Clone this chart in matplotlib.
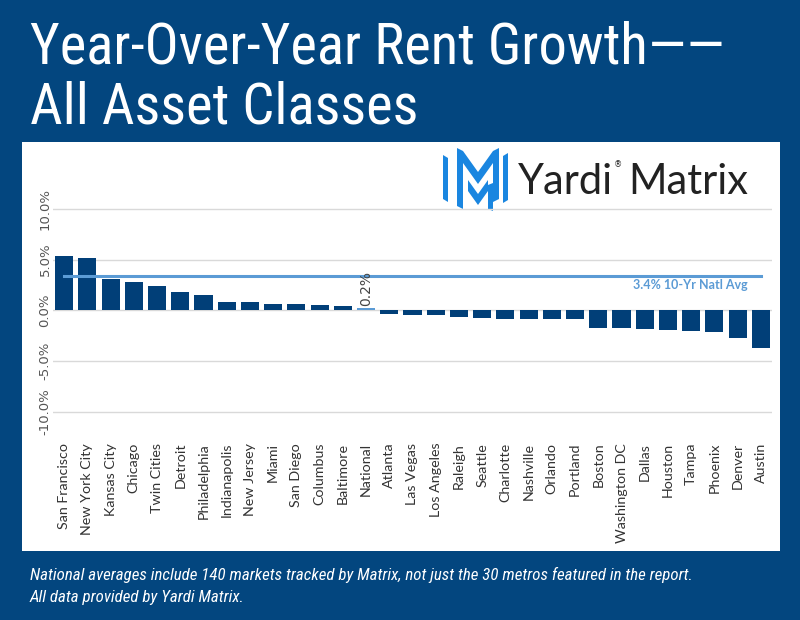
import matplotlib
matplotlib.use("Agg")
import matplotlib.pyplot as plt
from matplotlib import font_manager
from matplotlib.patches import Rectangle, Polygon
import numpy as np

# Data
metros = ['San Francisco', 'New York City', 'Kansas City', 'Chicago', 'Twin Cities',
          'Detroit', 'Philadelphia', 'Indianapolis', 'New Jersey', 'Miami',
          'San Diego', 'Columbus', 'Baltimore', 'National', 'Atlanta', 'Las Vegas',
          'Los Angeles', 'Raleigh', 'Seattle', 'Charlotte', 'Nashville', 'Orlando',
          'Portland', 'Boston', 'Washington DC', 'Dallas', 'Houston', 'Tampa',
          'Phoenix', 'Denver', 'Austin']
rent_growth = [5.4, 5.2, 3.1, 2.8, 2.4, 1.8, 1.5, 0.8, 0.8, 0.6,
               0.6, 0.5, 0.4, 0.2, -0.4, -0.5, -0.5, -0.7, -0.8, -0.9,
               -0.9, -0.9, -0.9, -1.7, -1.7, -1.8, -1.9, -2.0, -2.1, -2.7, -3.7]
natl_avg = 3.4
y_ticks = [-10, -5, 0, 5, 10]

NAVY = '#03467f'
BAR = '#013f78'
LIGHT = '#5b9bd5'

# pick a narrow face for the title if one is around
names = {f.name for f in font_manager.fontManager.ttflist}
if 'Roboto Condensed' in names:
    head = dict(family='Roboto Condensed')
elif 'Liberation Sans Narrow' in names:
    head = dict(family='Liberation Sans Narrow')
else:
    head = dict(family='Roboto')

fig = plt.figure(figsize=(8, 6.2), dpi=100)
fig.patch.set_facecolor(NAVY)
renderer = fig.canvas.get_renderer()


def fit_text(t, width_px):
    # shrink a text until it is as wide as the reference
    for _ in range(3):
        w = t.get_window_extent(renderer).width
        t.set_fontsize(t.get_fontsize() * width_px / w)


# background layer in pixel coordinates
bg = fig.add_axes([0, 0, 1, 1], zorder=0)
bg.set_xlim(0, 800)
bg.set_ylim(620, 0)
bg.axis('off')
bg.add_patch(Rectangle((22, 142), 758, 409, facecolor='white', edgecolor='none'))

# logo mark (rough)
icon = [
    [(443, 155), (448, 158), (448, 202), (443, 199)],
    [(457, 148), (463, 151), (463, 209), (457, 206)],
    [(463, 151), (478, 172), (493, 151), (493, 163), (478, 184), (463, 163)],
    [(468, 180), (478, 194), (488, 180), (488, 191), (478, 205), (468, 191)],
    [(493, 151), (499, 148), (499, 199), (493, 202)],
    [(488, 185), (493, 183), (493, 211), (488, 209)],
    [(503, 156), (508, 153), (508, 200), (503, 203)],
]
for pts in icon:
    bg.add_patch(Polygon(pts, closed=True, facecolor='#1a86e0', edgecolor='none'))
bg.text(518, 182, 'Yardi', fontsize=30, color='#222222', family='Lato',
        va='center', ha='left')
bg.text(614, 165, '®', fontsize=6, color='#222222', va='center', ha='left')
bg.text(628, 182, 'Matrix', fontsize=30, color='#222222', family='Lato',
        va='center', ha='left')

# title and footnote
t1 = fig.text(30 / 800, 1 - 64 / 620, 'Year-Over-Year Rent Growth\u2014\u2014',
              color='white', fontsize=40, va='baseline', ha='left', **head)
fit_text(t1, 695)
fig.text(30 / 800, 1 - 123 / 620, 'All Asset Classes', color='white',
         fontsize=t1.get_fontsize(), va='baseline', ha='left', **head)
f1 = fig.text(30 / 800, 1 - 580 / 620,
              'National averages include 140 markets tracked by Matrix, '
              'not just the 30 metros featured in the report.',
              color='white', fontsize=11, style='italic', va='baseline', **head)
fit_text(f1, 660)
fig.text(30 / 800, 1 - 602 / 620, 'All data provided by Yardi Matrix.',
         color='white', fontsize=f1.get_fontsize(), style='italic',
         va='baseline', **head)

# chart
ymin, ymax = -10.2, 10.2
px_per_unit = 10.13
ax_h = (ymax - ymin) * px_per_unit
ax_top = 209 - (ymax - 10) * px_per_unit
ax = fig.add_axes([53 / 800, 1 - (ax_top + ax_h) / 620, 719 / 800, ax_h / 620], zorder=1)
ax.set_facecolor('none')
x = np.arange(len(metros))
colors = [LIGHT if m == 'National' else BAR for m in metros]
ax.bar(x, rent_growth, width=0.78, color=colors, zorder=2)
ax.plot([x[0], x[-1]], [natl_avg, natl_avg], color=LIGHT, lw=2.2, zorder=3)
ax.text(29.45, natl_avg - 0.95, f'{natl_avg}% 10-Yr Natl Avg', color=LIGHT,
        fontsize=9, fontweight='bold', ha='right', va='center', family='Lato')

i_nat = metros.index('National')
ax.text(x[i_nat], rent_growth[i_nat] + 0.25, f'{rent_growth[i_nat]}%', rotation=90,
        ha='center', va='bottom', fontsize=10, color='#444444')

ax.set_xlim(-0.48, len(metros) - 0.52)
ax.set_ylim(ymin, ymax)
ax.set_yticks(y_ticks)
ax.set_yticklabels([f'{v:.1f}%' for v in y_ticks], rotation=90, va='center',
                   fontsize=9.5, color='#555555')
ax.set_xticks(x)
ax.set_xticklabels(metros, rotation=90, fontsize=10.3, color='#333333', family='Lato')
ax.tick_params(axis='both', length=0)
ax.tick_params(axis='x', pad=21)
ax.tick_params(axis='y', pad=1)
ax.grid(axis='y', color='#d9d9d9', lw=1, zorder=0)
for s in ax.spines.values():
    s.set_visible(False)

plt.savefig('out.png', dpi=100, facecolor=fig.get_facecolor())
